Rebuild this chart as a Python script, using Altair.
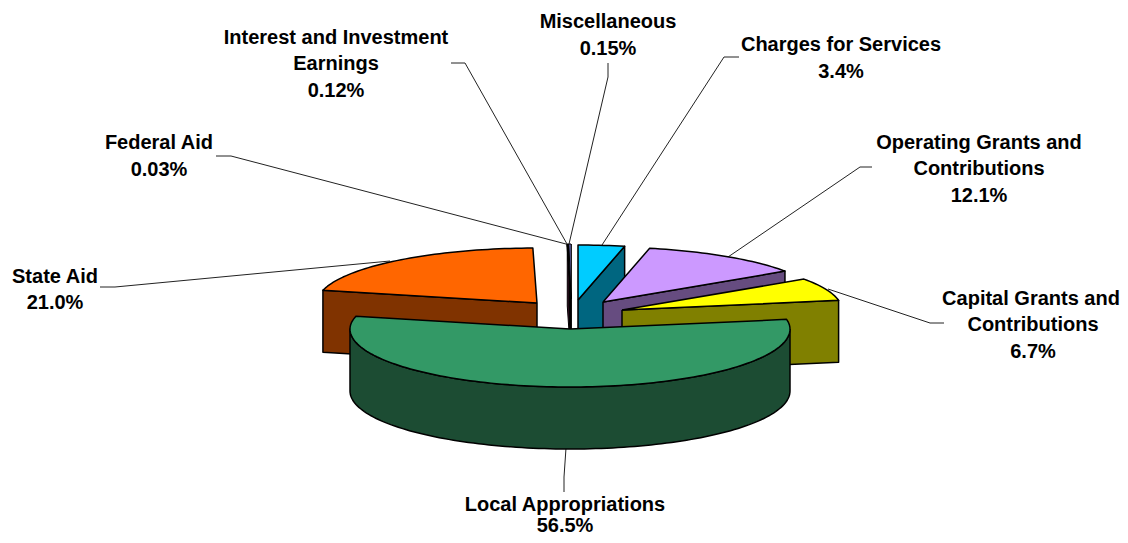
import math
import altair as alt
import pandas as pd

categories = ["Miscellaneous", "Charges for Services", "Operating Grants and Contributions",
              "Capital Grants and Contributions", "Local Appropriations", "State Aid",
              "Federal Aid", "Interest and Investment Earnings"]
shares = [0.15, 3.4, 12.1, 6.7, 56.5, 21.0, 0.03, 0.12]
top_colors = ["#9999FF", "#00CCFF", "#CC99FF", "#FFFF00", "#339966", "#FF6600", "#993366", "#000000"]
side_colors = ["#5A1A6A", "#006680", "#664C80", "#808000", "#1C4C33", "#803300", "#4C1933", "#000000"]
# pie tip of each slice after it was pulled out of the pie
tips = [(571, 299), (578, 300), (603, 302), (622, 310), (570, 329), (537, 303), (571, 299), (571, 299)]

RX, RY_BACK, RY_FRONT, DEPTH = 220, 55, 58, 62
START = -0.54  # first slice starts just left of twelve o'clock
FONT = "Liberation Sans"
FONT_SIZE = 20

labels = [
    ("Interest and Investment", 336, 38), ("Earnings", 336, 64), ("0.12%", 336, 91),
    ("Federal Aid", 159, 143), ("0.03%", 159, 170),
    ("State Aid", 55, 277), ("21.0%", 55, 303),
    ("Miscellaneous", 608, 22), ("0.15%", 608, 49),
    ("Charges for Services", 841, 45), ("3.4%", 841, 72),
    ("Operating Grants and", 979, 143), ("Contributions", 979, 169), ("12.1%", 979, 196),
    ("Capital Grants and", 1031, 299), ("Contributions", 1033, 325), ("6.7%", 1033, 352),
    ("Local Appropriations", 565, 505), ("56.5%", 565, 526),
]
leaders = [
    [(100, 287), (115, 287), (390, 261)],
    [(216, 156), (231, 156), (566, 244)],
    [(451, 63), (465, 63), (567, 244)],
    [(608, 63), (608, 77), (569, 244)],
    [(739, 57), (724, 57), (602, 245)],
    [(872, 167), (860, 167), (728, 257)],
    [(944, 323), (930, 323), (828, 289)],
    [(566, 448), (564, 477), (564, 492)],
]

xs = alt.Scale(domain=[8, 1120], range=[0, 1112], nice=False, zero=False)
ys = alt.Scale(domain=[8, 535], range=[0, 527], nice=False, zero=False)


def pt(tip, deg):
    r = math.radians(deg)
    c = math.cos(r)
    return (tip[0] + RX * math.sin(r), tip[1] - (RY_BACK if c > 0 else RY_FRONT) * c)


def arc(tip, a, b):
    n = max(2, int(abs(b - a) / 1.5) + 2)
    return [pt(tip, a + (b - a) * i / (n - 1)) for i in range(n)]


def shape(points, fill, sw=1.5):
    rows = [{"px": p[0], "py": p[1], "i": i} for i, p in enumerate(points)]
    return alt.Chart(pd.DataFrame(rows)).mark_line(
        fill=fill, stroke="black", strokeWidth=sw, strokeJoin="round", interpolate="linear"
    ).encode(
        x=alt.X("px:Q", scale=xs, axis=None),
        y=alt.Y("py:Q", scale=ys, axis=None),
        order=alt.Order("i:Q"),
    )


def down(points):
    return [(p[0], p[1] + DEPTH) for p in points]


# angular range of every slice
edges = []
a = START
for s in shares:
    edges.append((a, a + s * 3.6))
    a += s * 3.6

layers = []
# leader lines sit behind the slices
for path in leaders:
    rows = [{"px": p[0], "py": p[1], "i": i} for i, p in enumerate(path)]
    layers.append(alt.Chart(pd.DataFrame(rows)).mark_line(color="#222222", strokeWidth=1).encode(
        x=alt.X("px:Q", scale=xs, axis=None),
        y=alt.Y("py:Q", scale=ys, axis=None),
        order=alt.Order("i:Q"),
    ))

# back-to-front: slivers, then right-hand slices, state aid, local appropriations
for k in [6, 7, 0, 1, 2, 3]:
    a, b = edges[k]
    tip = tips[k]
    sw = 1 if k in (0, 6, 7) else 1.5
    outer = pt(tip, b)
    face = [tip, outer] + down([outer, tip]) + [tip]
    layers.append(shape(face, side_colors[k], sw))
    top = [tip] + arc(tip, a, b) + [tip]
    layers.append(shape(top, top_colors[k], sw))

k = 5
a, b = edges[k]
tip = tips[k]
outer = pt(tip, a)
layers.append(shape([tip, outer] + down([outer, tip]) + [tip], side_colors[k]))
layers.append(shape([tip] + arc(tip, a, b) + [tip], top_colors[k]))

k = 4
a, b = edges[k]
tip = tips[k]
front = arc(tip, 90, 270)
layers.append(shape(front + down(front[::-1]) + [front[0]], side_colors[k]))
layers.append(shape([tip] + arc(tip, a, b) + [tip], top_colors[k]))

text = alt.Chart(pd.DataFrame(labels, columns=["t", "px", "py"])).mark_text(
    font=FONT, fontSize=FONT_SIZE, fontWeight="bold", color="black", align="center", baseline="middle"
).encode(
    x=alt.X("px:Q", scale=xs, axis=None),
    y=alt.Y("py:Q", scale=ys, axis=None),
    text="t:N",
)
layers.append(text)

chart = alt.layer(*layers).properties(
    width=1112, height=527, padding=0, background="white", autosize=alt.AutoSizeParams(type="none")
).configure_view(stroke=None)

chart.save("out.html", embed_options={"renderer": "svg", "actions": False})
